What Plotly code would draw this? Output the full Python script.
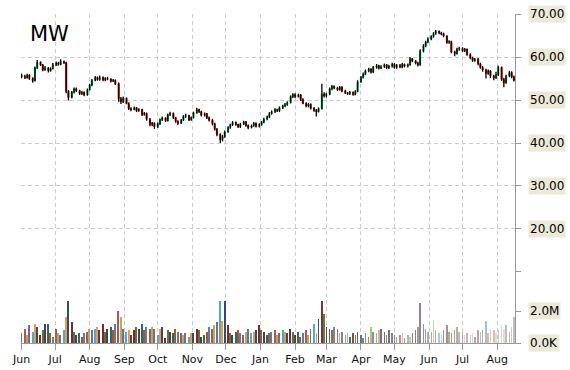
import pandas as pd
import plotly.graph_objects as go

# ---- data (Mon/Wed/Fri sessions, Jun 2012 - mid Aug 2013) ----
opens = [
 55.8,55.5,55.2,55.8,55.0,54.5,57.5,58.8,58.2,57.0,57.5,56.8,57.3,          # Jun
 58.2,58.6,58.3,59.0,58.7,52.0,50.6,51.8,52.6,52.2,51.5,51.8,51.2,          # Jul
 52.4,53.5,54.6,55.2,54.8,55.3,54.7,55.0,54.9,54.4,54.6,53.8,50.3,49.6,     # Aug
 50.4,49.2,48.0,47.8,48.2,47.5,47.8,46.6,46.9,45.5,44.3,44.6,               # Sep
 43.8,44.5,45.4,45.8,45.2,46.6,46.9,45.9,45.0,44.6,45.3,46.2,46.4,45.4,     # Oct
 45.9,47.0,47.8,47.3,46.5,46.8,45.9,45.3,44.5,43.2,42.0,40.8,41.5,          # Nov
 42.6,43.6,44.2,44.8,44.3,43.8,44.4,44.9,44.1,43.6,44.0,44.6,43.9,          # Dec
 44.3,44.8,45.6,46.1,46.9,47.3,47.8,47.5,48.2,48.6,49.0,49.4,50.8,          # Jan
 51.3,50.8,51.2,50.1,49.2,48.6,49.0,48.1,47.6,47.3,48.0,51.4,               # Feb
 51.0,51.4,52.6,53.2,52.8,52.4,53.0,52.1,51.7,51.5,51.8,51.3,52.0,          # Mar
 54.2,55.3,56.0,56.8,57.2,56.5,57.6,58.0,57.4,57.8,58.2,57.5,57.9,          # Apr
 58.3,57.6,58.1,57.7,58.3,57.9,58.2,59.6,59.1,58.6,58.2,61.4,62.6,63.5,     # May
 64.2,64.8,65.5,66.0,65.6,65.4,64.9,63.4,63.6,61.2,60.8,61.9,               # Jun
 62.0,61.5,61.8,60.6,59.8,59.2,59.5,58.4,57.6,57.0,56.2,56.8,55.6,55.2,     # Jul
 55.9,57.6,54.8,54.0,55.6,56.4,55.4,                                        # Aug
]
highs = [
 56.2,55.9,56.1,56.0,55.3,57.8,59.3,59.0,58.4,57.9,57.7,57.6,58.6,
 59.0,58.9,59.5,59.2,58.9,52.3,52.1,52.9,52.9,52.4,52.1,52.0,52.7,
 53.8,54.9,55.6,55.5,55.7,55.5,55.3,55.4,55.1,54.9,54.8,54.1,50.7,50.8,
 50.6,49.5,48.3,48.5,48.4,48.1,48.0,47.2,47.1,45.8,44.9,44.8,
 44.8,45.7,46.2,46.0,46.9,47.3,47.1,46.1,45.3,45.6,46.5,46.8,46.6,46.2,
 47.3,48.2,48.0,47.5,47.1,47.0,46.2,45.6,44.7,43.5,42.3,41.9,42.9,
 43.9,44.5,45.1,45.0,44.5,44.7,45.2,45.1,44.3,44.3,44.9,44.8,44.6,
 45.1,45.9,46.4,47.2,47.6,48.1,48.0,48.5,48.9,49.3,49.7,51.1,51.6,
 51.6,51.5,51.4,50.4,49.5,49.3,49.2,48.4,47.9,48.3,53.8,51.8,
 51.7,52.9,53.5,53.4,53.1,53.3,53.2,52.4,51.9,52.1,52.0,52.3,54.6,
 55.6,56.4,57.1,57.5,57.4,57.9,58.4,58.2,58.1,58.5,58.4,58.2,58.7,
 58.6,58.4,58.4,58.6,58.5,58.5,60.0,59.8,59.3,58.9,61.8,63.0,63.8,64.6,
 65.1,65.8,66.3,66.2,65.9,65.7,65.1,63.9,63.8,61.5,62.2,62.4,
 62.3,62.1,62.0,60.9,60.1,59.8,59.8,58.7,57.9,57.3,57.1,57.0,55.9,56.6,
 58.0,57.8,55.2,55.9,56.8,56.7,55.7,
]
lows = [
 55.1,54.9,55.0,54.7,54.0,54.3,57.2,57.9,56.7,56.8,56.4,56.6,57.1,
 57.9,58.0,58.1,58.4,51.6,49.9,50.4,51.5,51.9,51.2,51.2,50.9,51.0,
 52.2,53.2,54.4,54.5,54.5,54.4,54.4,54.6,54.1,54.2,53.5,49.6,49.1,49.3,
 49.0,47.7,47.4,47.6,47.2,47.3,46.3,46.4,45.2,43.9,43.9,43.3,
 43.5,44.2,45.1,44.9,45.0,46.3,45.6,44.7,44.2,44.4,45.1,45.9,45.1,45.2,
 45.7,46.8,47.0,46.2,46.2,45.6,45.0,44.1,42.9,41.6,40.0,40.4,41.2,
 42.4,43.3,44.0,44.0,43.5,43.5,44.2,43.8,43.2,43.4,43.8,43.6,43.6,
 44.0,44.6,45.3,45.8,46.6,47.0,47.2,47.2,47.9,48.3,48.7,49.2,50.5,
 50.5,50.6,49.8,49.0,48.3,48.3,47.8,47.3,46.2,47.1,47.8,50.6,
 50.6,51.1,52.3,52.5,52.1,52.2,51.8,51.4,51.2,51.2,51.0,51.1,51.8,
 54.0,55.0,55.8,56.5,56.2,56.3,57.3,57.1,57.2,57.5,57.2,57.2,57.6,
 57.3,57.3,57.4,57.4,57.6,57.6,58.0,58.8,58.3,57.8,58.0,61.1,62.3,63.2,
 63.9,64.5,65.2,65.3,65.1,64.6,63.1,63.1,60.9,60.2,60.6,61.5,
 61.2,61.2,60.3,59.5,58.9,58.9,58.1,57.3,56.6,55.0,55.9,55.1,54.6,54.9,
 55.6,54.5,53.0,53.8,55.3,55.1,54.3,
]
closes = [
 55.5,55.2,55.8,55.0,54.5,57.5,58.8,58.2,57.0,57.5,56.8,57.3,58.2,
 58.6,58.3,59.0,58.7,52.0,50.6,51.8,52.6,52.2,51.5,51.8,51.2,52.4,
 53.5,54.6,55.2,54.8,55.3,54.7,55.0,54.9,54.4,54.6,53.8,50.3,49.6,50.4,
 49.2,48.0,47.8,48.2,47.5,47.8,46.6,46.9,45.5,44.3,44.6,43.8,
 44.5,45.4,45.8,45.2,46.6,46.9,45.9,45.0,44.6,45.3,46.2,46.4,45.4,45.9,
 47.0,47.8,47.3,46.5,46.8,45.9,45.3,44.5,43.2,42.0,40.8,41.5,42.6,
 43.6,44.2,44.8,44.3,43.8,44.4,44.9,44.1,43.6,44.0,44.6,43.9,44.3,
 44.8,45.6,46.1,46.9,47.3,47.8,47.5,48.2,48.6,49.0,49.4,50.8,51.3,
 50.8,51.2,50.1,49.2,48.6,49.0,48.1,47.6,47.3,48.0,51.4,51.0,
 51.4,52.6,53.2,52.8,52.4,53.0,52.1,51.7,51.5,51.8,51.3,52.0,54.2,
 55.3,56.0,56.8,57.2,56.5,57.6,58.0,57.4,57.8,58.2,57.5,57.9,58.3,
 57.6,58.1,57.7,58.3,57.9,58.2,59.6,59.1,58.6,58.2,61.4,62.6,63.5,64.2,
 64.8,65.5,66.0,65.6,65.4,64.9,63.4,63.6,61.2,60.8,61.9,62.0,
 61.5,61.8,60.6,59.8,59.2,59.5,58.4,57.6,57.0,56.2,56.8,55.6,55.2,55.9,
 57.6,54.8,54.0,55.6,56.4,55.4,54.6,
]
volume_m = [
 0.6,0.9,0.5,1.1,0.7,1.2,1.0,0.5,0.8,1.2,1.2,0.6,0.4,
 0.9,0.6,0.5,0.8,1.6,2.6,1.3,0.7,0.5,0.6,0.4,0.6,0.7,
 0.9,0.8,0.9,1.0,0.8,1.2,0.7,0.9,1.0,0.8,1.2,2.0,1.6,0.9,
 0.7,0.8,0.5,0.8,1.0,0.9,1.2,0.8,1.0,0.9,1.0,0.9,
 0.5,0.9,1.0,0.3,0.8,0.7,0.6,0.9,0.7,0.6,0.5,0.6,0.4,0.6,
 0.6,0.9,0.8,0.4,0.5,0.7,1.0,0.9,1.1,1.3,2.6,1.4,2.6,
 1.1,0.6,0.5,0.7,0.8,0.6,0.5,0.7,0.9,0.6,0.7,0.8,1.1,
 0.8,0.7,0.5,0.6,0.7,0.8,0.5,0.6,0.8,0.7,0.6,0.9,0.7,
 0.5,0.7,0.4,0.6,0.8,0.5,0.9,1.2,0.6,1.5,2.6,1.8,
 1.0,0.9,0.8,1.0,0.9,0.6,0.7,0.5,0.6,0.4,0.6,0.5,0.7,
 0.5,0.3,0.6,0.4,1.0,0.7,0.6,0.8,0.9,0.7,0.5,0.8,0.6,
 0.5,0.4,0.5,0.6,0.3,0.5,0.4,0.6,0.8,1.0,2.5,1.2,0.9,0.7,
 0.7,1.4,0.8,0.6,0.5,0.8,1.1,0.7,0.6,0.8,1.0,0.7,
 0.7,0.5,0.6,0.5,0.6,0.4,0.8,0.7,0.8,1.4,0.6,0.9,0.8,0.6,
 0.8,1.1,0.9,1.1,0.7,1.0,1.6,
]
month_ticks = ["2012-06-01","2012-07-01","2012-08-01","2012-09-01","2012-10-01",
               "2012-11-01","2012-12-01","2013-01-01","2013-02-01","2013-03-01",
               "2013-04-01","2013-05-01","2013-06-01","2013-07-01","2013-08-01"]
month_labels = ["Jun","Jul","Aug","Sep","Oct","Nov","Dec","Jan","Feb","Mar",
                "Apr","May","Jun","Jul","Aug"]
price_labels = [20, 30, 40, 50, 60, 70]
symbol = "MW"

dates = pd.bdate_range("2012-06-01", "2013-08-16", freq="C", weekmask="Mon Wed Fri")
n = len(closes)
dates = dates[:n]
assert len(dates) == n == len(opens) == len(highs) == len(lows) == len(volume_m)

volume = [v * 1e6 for v in volume_m]
body_hi = [max(o, c) for o, c in zip(opens, closes)]
body_lo = [min(o, c) for o, c in zip(opens, closes)]

# wicks (black) from low to high
wx, wy = [], []
for d, lo, hi in zip(dates, lows, highs):
    wx += [d, d, None]
    wy += [lo, hi, None]

palette = [(79,129,189),(192,80,77),(155,187,89),(128,100,162),(75,172,198),(247,150,70),
           (44,77,117),(119,44,42),(95,117,48),(77,59,98),(39,106,124),(182,87,8)]
bar_colors = []
for i in range(n):
    r, g, b = palette[i % len(palette)]
    a = 1.0 if i < 110 else max(0.35, 1.0 - (i - 110) * 0.0085)
    bar_colors.append(f"rgba({r},{g},{b},{a:.2f})")

fig = go.Figure()
fig.add_trace(go.Bar(x=dates, y=volume, marker=dict(color=bar_colors, line=dict(width=0)),
                     width=1.3 * 86400000, yaxis="y", xaxis="x", showlegend=False))
fig.add_trace(go.Scatter(x=wx, y=wy, mode="lines", line=dict(color="#000000", width=1.3),
                         yaxis="y2", showlegend=False, hoverinfo="skip"))
fig.add_trace(go.Candlestick(x=dates, open=opens, high=body_hi, low=body_lo, close=closes,
                             increasing=dict(line=dict(color="#00B060", width=1), fillcolor="#00B060"),
                             decreasing=dict(line=dict(color="#FF0000", width=1), fillcolor="#FF0000"),
                             yaxis="y2", showlegend=False))

L, R, T, B = 21, 55, 14, 27
W, H = 570, 370
ph = H - T - B
split = (343 - 272) / ph
vol_top = 2e6 * (343 - 272) / (343 - 311)

grid = "#cccccc"
fig.update_layout(
    width=W, height=H, margin=dict(l=L, r=R, t=T, b=B, autoexpand=False),
    paper_bgcolor="white", plot_bgcolor="white",
    xaxis=dict(type="date", range=["2012-05-31 12:00", "2013-08-17"],
               tickvals=month_ticks, ticktext=month_labels,
               showgrid=True, gridcolor=grid, griddash="4px,3px", gridwidth=1,
               ticks="outside", ticklen=6, tickcolor="#999999",
               showline=True, linecolor="#999999", linewidth=1,
               tickfont=dict(family="DejaVu Sans", size=11, color="#111111"),
               rangeslider=dict(visible=False), anchor="y", zeroline=False,
               automargin=False),
    yaxis=dict(domain=[0, split], range=[0, vol_top], side="right",
               tickvals=[0, 2e6], showticklabels=False, showgrid=False,
               ticks="outside", ticklen=5, tickcolor="#999999",
               showline=True, linecolor="#999999", zeroline=False, automargin=False),
    yaxis2=dict(domain=[split, 1], range=[9.98, 70.03], side="right", anchor="x",
                tickvals=[10, 20, 30, 40, 50, 60, 70], showticklabels=False,
                showgrid=True, gridcolor=grid, griddash="4px,3px",
                ticks="outside", ticklen=5, tickcolor="#999999",
                showline=True, linecolor="#999999", zeroline=False, automargin=False),
    bargap=0, hovermode=False,
)

lab_x = 1 + (528 - (W - R)) / (W - L - R)
anns = []
for p in price_labels:
    anns.append(dict(x=lab_x, xref="paper", y=p, yref="y2", text=f"{p:.2f}",
                     showarrow=False, xanchor="left", yanchor="middle",
                     bgcolor="#ECE9D8", borderpad=1,
                     font=dict(family="DejaVu Sans", size=12, color="#000000")))
for v, t in [(2e6, "2.0M"), (0, "0.0K")]:
    anns.append(dict(x=lab_x, xref="paper", y=v, yref="y", text=t,
                     showarrow=False, xanchor="left", yanchor="middle",
                     bgcolor="#ECE9D8", borderpad=1,
                     font=dict(family="DejaVu Sans", size=12, color="#000000")))
anns.append(dict(x=(28 - L) / (W - L - R), xref="paper", y=1 - (20 - T) / ph, yref="paper",
                 text=symbol, showarrow=False, xanchor="left", yanchor="top",
                 font=dict(family="DejaVu Sans", size=21, color="#000000")))
fig.update_layout(annotations=anns)

fig.write_html("out.html", config={"displayModeBar": False},
               post_script="document.body.style.margin='0';document.body.style.padding='0';")
